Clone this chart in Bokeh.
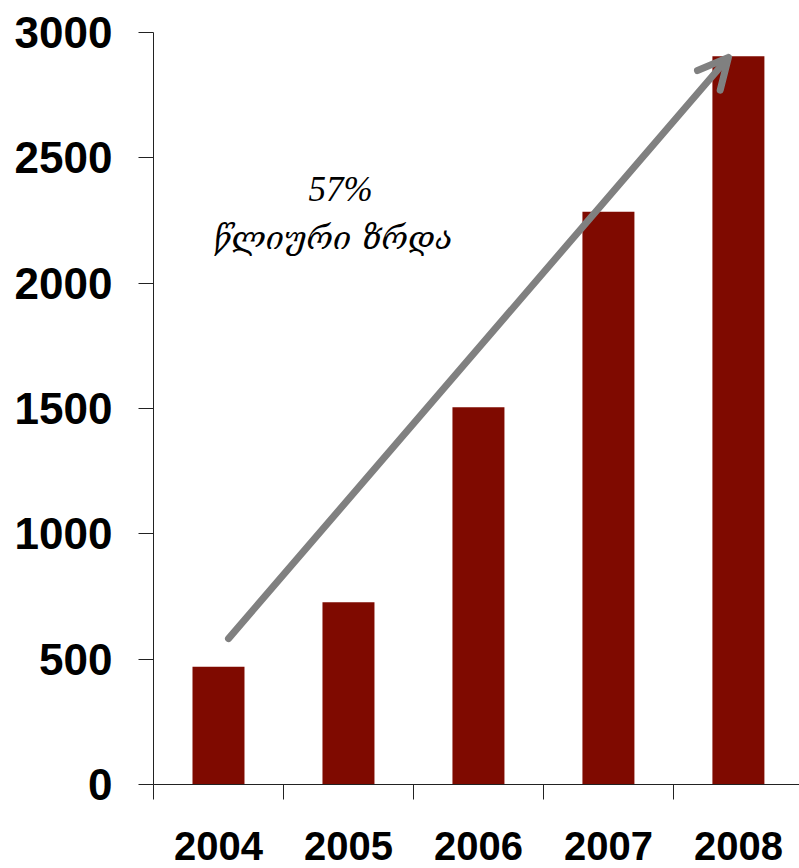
from bokeh.plotting import figure
from bokeh.models import Range1d, FixedTicker, Arrow, OpenHead, Label
from bokeh.embed import file_html
from bokeh.resources import INLINE

# Annual values
years = ["2004", "2005", "2006", "2007", "2008"]
values = [470, 727, 1505, 2285, 2905]
y_ticks = [0, 500, 1000, 1500, 2000, 2500, 3000]

xs = list(range(1, len(years) + 1))

p = figure(
    width=799, height=868,
    x_range=Range1d(0.5, 5.47), y_range=Range1d(0, 3000),
    output_backend="svg", toolbar_location=None,
    min_border_left=153, min_border_right=0,
    min_border_top=32, min_border_bottom=84,
)
p.outline_line_color = None
p.xgrid.grid_line_color = None
p.ygrid.grid_line_color = None
p.background_fill_color = "white"

p.vbar(x=xs, top=values, width=0.4, fill_color="#7f0a00", line_color=None)

# Growth arrow
p.add_layout(Arrow(
    x_start=1.077, y_start=582, x_end=4.923, y_end=2900,
    line_color="#808080", line_width=7, line_cap="round",
    end=OpenHead(size=30, line_color="#808080", line_width=7, line_cap="round", line_join="round"),
))

p.add_layout(Label(x=1.94, y=2375, text="57%",
                   text_font="Liberation Serif", text_font_style="italic",
                   text_font_size="35px", text_align="center", text_baseline="alphabetic",
                   text_color="black"))
p.add_layout(Label(x=1.92, y=2180, text="წლიური  ზრდა",
                   text_font="DejaVu Serif", text_font_style="italic",
                   text_font_size="32px", text_align="center", text_baseline="alphabetic",
                   text_color="black"))

# y axis
ya = p.yaxis[0]
ya.ticker = FixedTicker(ticks=y_ticks)
ya.major_tick_out = 15
ya.major_tick_in = 0
ya.minor_tick_line_color = None
ya.axis_line_color = "#222222"
ya.major_tick_line_color = "#222222"
ya.major_label_standoff = 26
ya.major_label_text_font = "Liberation Sans"
ya.major_label_text_font_style = "bold"
ya.major_label_text_font_size = "44px"
ya.major_label_text_color = "black"

# x axis: labels at centres, marks at category boundaries
xa = p.xaxis[0]
xa.ticker = FixedTicker(ticks=xs, minor_ticks=[0.5, 1.5, 2.5, 3.5, 4.5, 5.5])
xa.major_label_overrides = {x: y for x, y in zip(xs, years)}
xa.major_tick_out = 0
xa.major_tick_in = 0
xa.major_tick_line_color = None
xa.minor_tick_out = 15
xa.minor_tick_in = 0
xa.minor_tick_line_color = "#222222"
xa.axis_line_color = "#222222"
xa.major_label_standoff = 32
xa.major_label_text_font = "Liberation Sans"
xa.major_label_text_font_style = "bold"
xa.major_label_text_font_size = "40px"
xa.major_label_text_color = "black"

open("out.html", "w").write(file_html(p, INLINE))
